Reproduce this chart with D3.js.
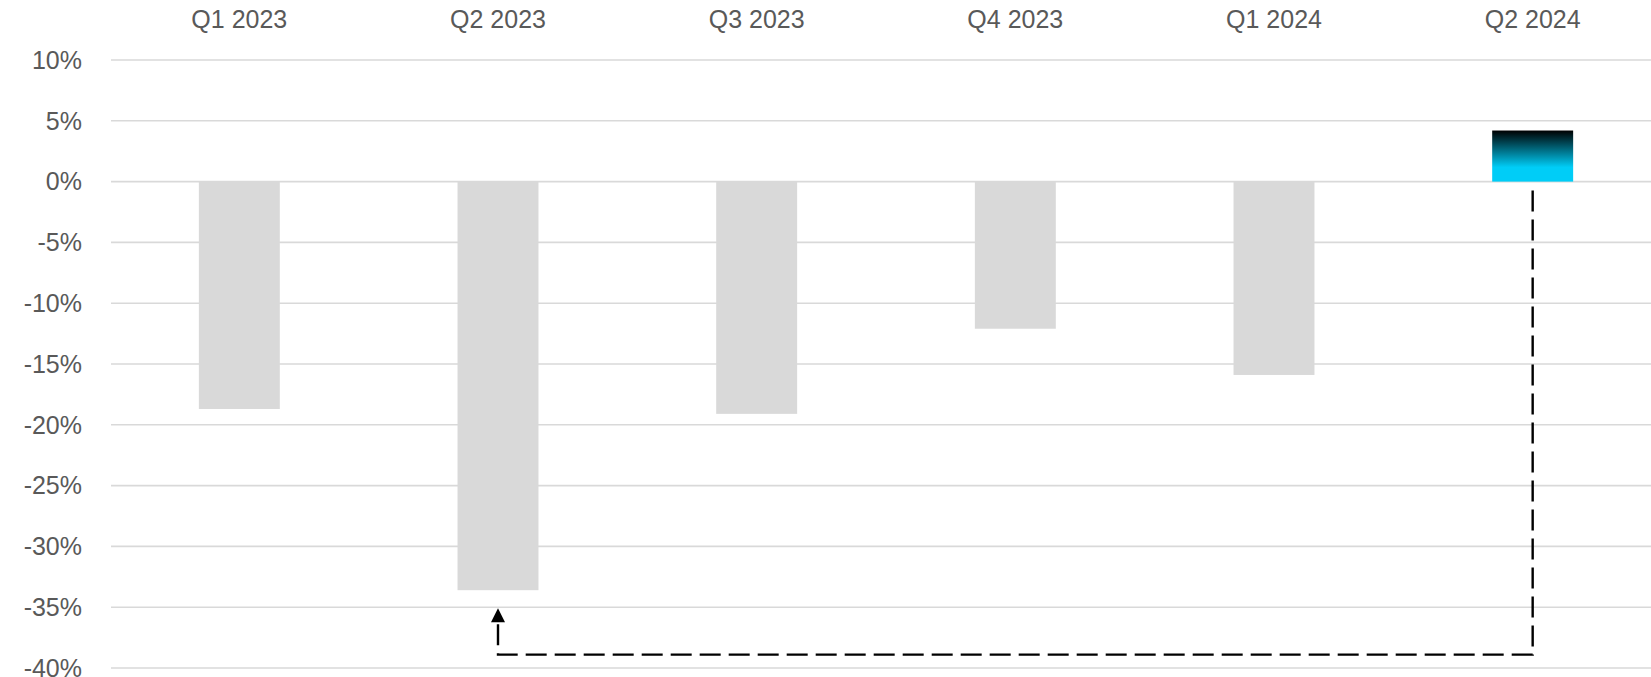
<!DOCTYPE html>
<html lang="en">
<head>
    <meta charset="UTF-8">
    <title>Quarterly change</title>
    <script src="https://d3js.org/d3.v7.min.js"></script>
    <style>
        body { margin: 0; background: #fff; font-family: "Liberation Sans", Arial, sans-serif; }
        svg { display: block; }
    </style>
</head>
<body>
    <div id="chart"></div>

    <script>
        const quarters = ["Q1 2023", "Q2 2023", "Q3 2023", "Q4 2023", "Q1 2024", "Q2 2024"];
        const change = [-18.7, -33.6, -19.1, -12.1, -15.9, 4.2];
        const yTicks = [10, 5, 0, -5, -10, -15, -20, -25, -30, -35, -40];
        // arrow goes from the last quarter back to the worst one
        const arrowFrom = "Q2 2024";
        const arrowTo = "Q2 2023";

        const width = 1651, height = 677;

        const svg = d3.select("#chart").append("svg")
            .attr("width", width)
            .attr("height", height);

        const x = d3.scaleBand()
            .domain(quarters)
            .range([110, 1662])
            .paddingInner(0.687)
            .paddingOuter(0.3435);

        const y = d3.scaleLinear()
            .domain([10, -40])
            .range([60, 668]);

        const defs = svg.append("defs");
        const grad = defs.append("linearGradient")
            .attr("id", "posGrad")
            .attr("x1", 0).attr("y1", 0).attr("x2", 0).attr("y2", 1);
        grad.append("stop").attr("offset", "0%").attr("stop-color", "#000000");
        grad.append("stop").attr("offset", "72%").attr("stop-color", "#00cdf7");
        grad.append("stop").attr("offset", "100%").attr("stop-color", "#00cdf7");

        defs.append("marker")
            .attr("id", "arrowHead")
            .attr("viewBox", "0 0 10 10")
            .attr("refX", 0).attr("refY", 5)
            .attr("markerWidth", 15).attr("markerHeight", 14)
            .attr("markerUnits", "userSpaceOnUse")
            .attr("orient", "auto")
            .append("path")
            .attr("d", "M0,0 L10,5 L0,10 Z")
            .attr("fill", "#000");

        // gridlines
        svg.append("g")
            .selectAll("line")
            .data(yTicks)
            .enter().append("line")
            .attr("x1", 111)
            .attr("x2", width)
            .attr("y1", d => y(d))
            .attr("y2", d => y(d))
            .style("stroke", "#d9d9d9")
            .style("stroke-width", 1.6);

        // y labels
        svg.append("g")
            .selectAll("text")
            .data(yTicks)
            .enter().append("text")
            .attr("x", 82)
            .attr("y", d => y(d))
            .attr("dy", "0.35em")
            .attr("text-anchor", "end")
            .attr("fill", "#595959")
            .style("font-size", "25px")
            .text(d => d + "%");

        // top category labels
        svg.append("g")
            .selectAll("text")
            .data(quarters)
            .enter().append("text")
            .attr("x", d => x(d) + x.bandwidth() / 2)
            .attr("y", 28)
            .attr("text-anchor", "middle")
            .attr("fill", "#595959")
            .style("font-size", "25px")
            .text(d => d);

        // bars
        svg.append("g")
            .selectAll("rect")
            .data(quarters.map((q, i) => ({ q, v: change[i] })))
            .enter().append("rect")
            .attr("x", d => x(d.q))
            .attr("width", x.bandwidth())
            .attr("y", d => y(Math.max(0, d.v)))
            .attr("height", d => Math.abs(y(d.v) - y(0)))
            .attr("fill", d => d.v > 0 ? "url(#posGrad)" : "#d9d9d9");

        // dashed connector with arrow
        const xFrom = x(arrowFrom) + x.bandwidth() / 2;
        const xTo = x(arrowTo) + x.bandwidth() / 2;
        const toVal = change[quarters.indexOf(arrowTo)];
        const yLow = y(-38.9);
        const path = d3.path();
        path.moveTo(xFrom, y(0) + 9);
        path.lineTo(xFrom, yLow);
        path.lineTo(xTo, yLow);
        path.lineTo(xTo, y(toVal) + 33);

        svg.append("path")
            .attr("d", path.toString())
            .attr("fill", "none")
            .style("stroke", "#000")
            .style("stroke-width", 2.4)
            .style("stroke-dasharray", "21 8");

        svg.append("line")
            .attr("x1", xTo).attr("x2", xTo)
            .attr("y1", y(toVal) + 33)
            .attr("y2", y(toVal) + 32)
            .style("stroke", "none")
            .attr("marker-end", "url(#arrowHead)");
    </script>
</body>
</html>
